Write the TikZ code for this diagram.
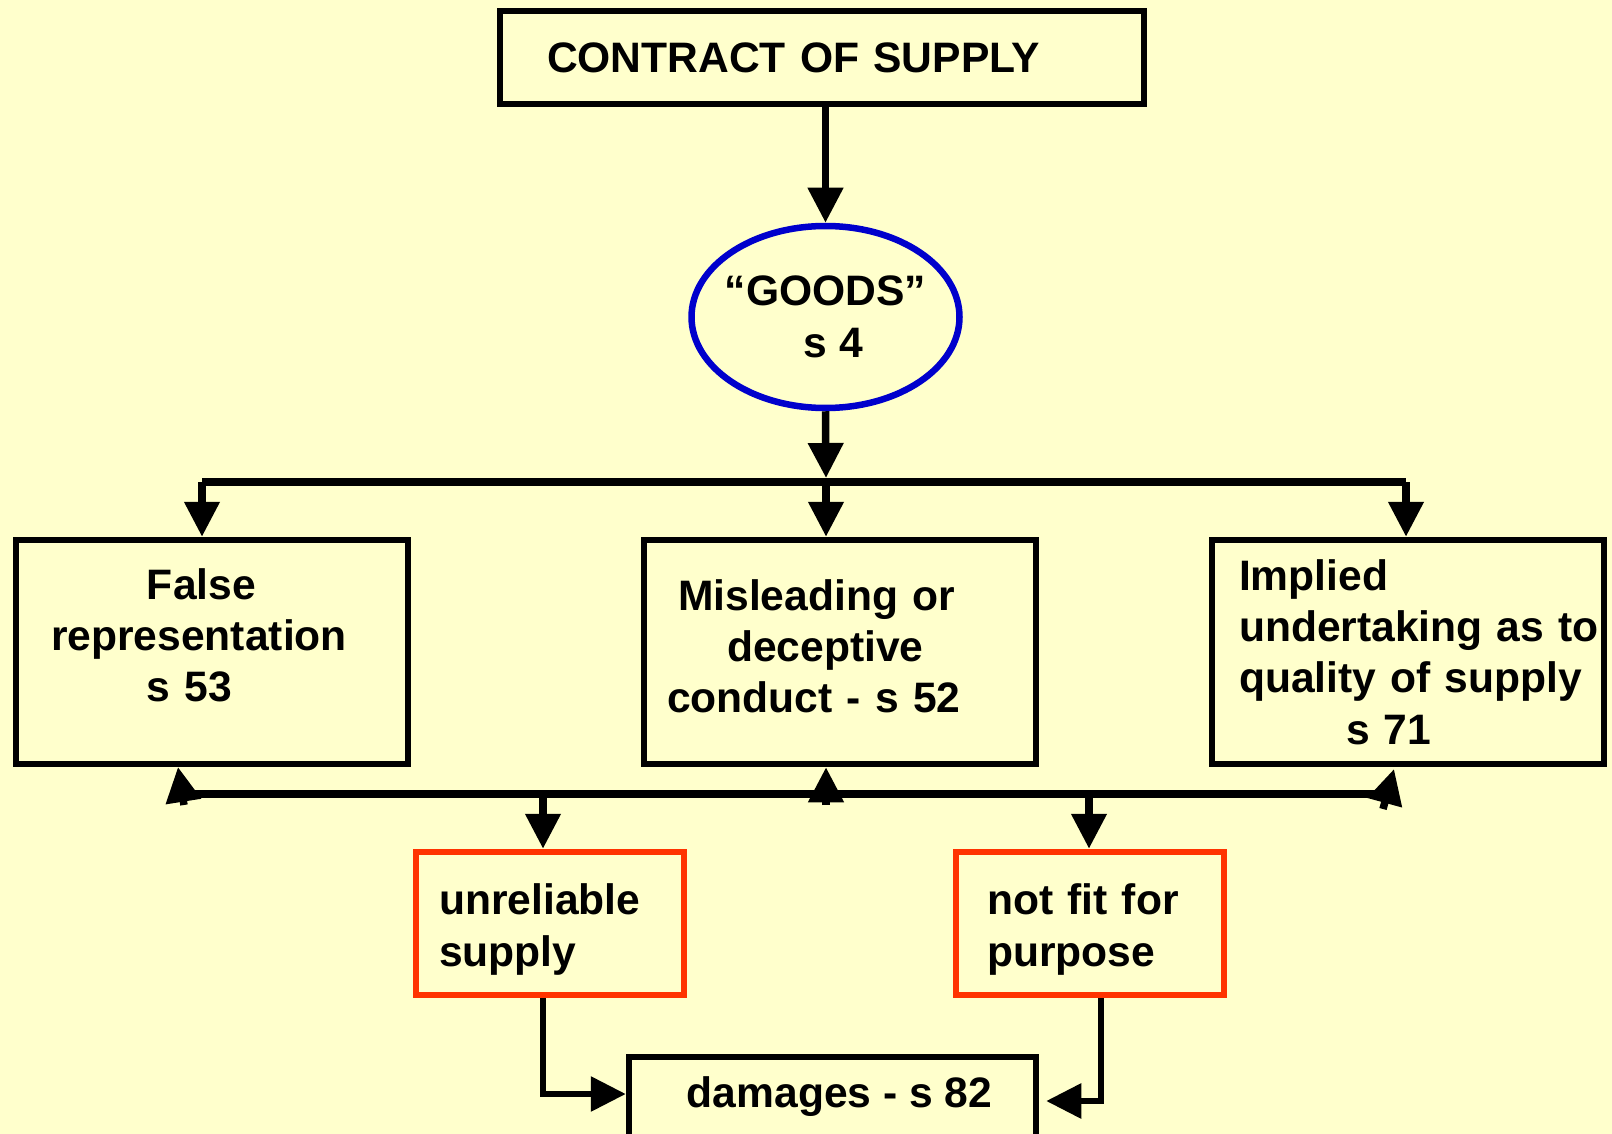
\documentclass[tikz,border=0pt]{standalone}
\usepackage{fontspec}
\setmainfont{Liberation Sans}
\usetikzlibrary{arrows.meta,shapes.geometric}
\definecolor{paper}{HTML}{FFFFCC}
\definecolor{goodsblue}{HTML}{0000CC}
\definecolor{flagred}{HTML}{FF3300}
\tikzset{
  txt/.style={font=\fontsize{42.6}{51.4}\selectfont\bfseries},
  box/.style={txt, draw, line width=6.5pt, inner ysep=0pt, align=left},
  sbox/.style={box, minimum width=392pt, minimum height=224pt},
  redbox/.style={box, draw=flagred, minimum width=268pt, minimum height=143pt},
  conn/.style={line width=7.5pt},
  arr/.style={conn, -{Triangle[length=35pt,width=34pt]}},
}
\begin{document}
\begin{tikzpicture}[x=1pt,y=-1pt]
	\fill[paper] (0,0) rectangle (1612,1134);
	\useasboundingbox (0,0) rectangle (1612,1134);
	% boxes
	\node[box, minimum height=93pt, inner xsep=47pt, text width=550pt] (contract) at (822,57.5) {CONTRACT OF SUPPLY};
	\node[txt, ellipse, draw=goodsblue, line width=6.5pt, minimum width=268pt, minimum height=182pt, inner xsep=-8pt, inner ysep=0pt, align=center] (goods) at (825.5,317) {“GOODS”\\ \hspace*{16pt}s 4};
	\node[sbox, inner xsep=35pt, text width=322pt] (falserep) at (212,652) {\hspace*{96pt}False\\representation\\\hspace*{96pt}s 53\rule[-34pt]{0pt}{34pt}};
	\node[sbox, inner xsep=23pt, text width=346pt] (decept) at (840,652) {\hspace*{11pt}Misleading or\\\hspace*{60pt}deceptive\\conduct - s 52\rule[-12pt]{0pt}{12pt}};
	\node[sbox, inner xsep=0pt, text width=392pt] (implied) at (1408,652) {\leftskip=27pt Implied\\undertaking as to\\quality of supply\\\hspace*{134pt}s 71};
	\node[redbox, inner xsep=23pt, text width=222pt] (unrel) at (550,923.5) {\rule{0pt}{43pt}unreliable\\supply};
	\node[redbox, inner xsep=31pt, text width=206pt] (notfit) at (1090,923.5) {\rule{0pt}{43pt}not fit for\\purpose};
	\node[box, minimum width=407pt, minimum height=80pt, align=center] (damages) at (832.5,1097) {\hspace*{14pt}damages - s 82};
	% upper split
	\coordinate (splitC) at (826,478);
	\coordinate (splitL) at (202,482);
	\coordinate (splitM) at (826,482);
	\coordinate (splitR) at (1406,482);
	\draw[arr] (goods |- contract.south) -- (goods.north);
	\draw[arr] (goods.south) -- (splitC);
	\draw[conn] (splitL) -- (splitR);
	\draw[arr] (splitL) -- (splitL |- falserep.north);
	\draw[arr] (splitM) -- (splitM |- decept.north);
	\draw[arr] (splitR) -- (splitR |- implied.north);
	% lower join
	\coordinate (joinL) at (185,794);
	\coordinate (joinR) at (1378,794);
	\coordinate (footL) at (184,805);
	\coordinate (tipL) at (178,767);
	\coordinate (footC) at (826,805);
	\coordinate (footR) at (1383,809);
	\coordinate (tipR) at (1394,769);
	\coordinate (dropL) at (543,794);
	\coordinate (dropR) at (1089,794);
	\draw[conn] (joinL) -- (joinR);
	\draw[arr] (footL) -- (tipL);
	\draw[arr] (footC) -- (footC |- decept.south);
	\draw[arr] (footR) -- (tipR);
	\draw[arr] (dropL) -- (dropL |- unrel.north);
	\draw[arr] (dropR) -- (dropR |- notfit.north);
	% to damages
	\draw[arr, line width=6pt] (dropL |- unrel.south) |- ([yshift=3pt]damages.west);
	\draw[arr, line width=6pt, shorten >=7pt] ([xshift=11pt]notfit.south) |- ([yshift=-4pt]damages.east);
\end{tikzpicture}
\end{document}
